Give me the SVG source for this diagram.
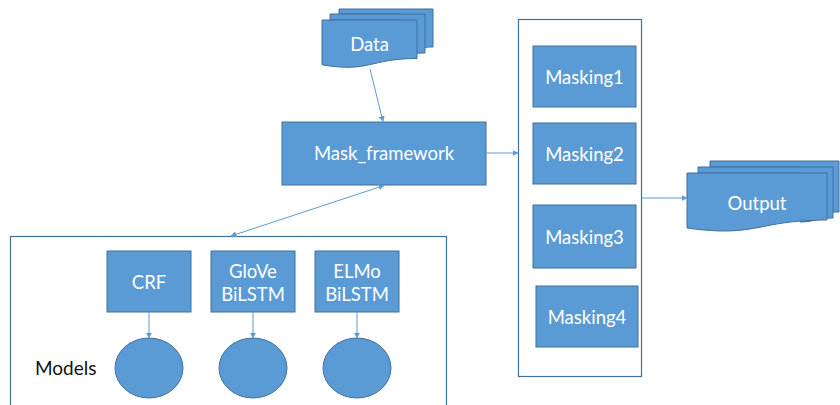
<svg xmlns="http://www.w3.org/2000/svg" width="840" height="405" viewBox="0 0 840 405">
<defs>
<marker id="ah" viewBox="0 0 10 10" refX="9" refY="5" markerWidth="6" markerHeight="6" orient="auto-start-reverse" markerUnits="userSpaceOnUse">
<path d="M0,0 L10,5 L0,10 Z" fill="#5B9BD5"/>
</marker>
<style>
.box{fill:#5B9BD5;stroke:#41719C;stroke-width:1}
.cont{fill:#FFFFFF;stroke:#41719C;stroke-width:1.2}
.lbl{font-family:Lato,"Open Sans","Liberation Sans",sans-serif;font-size:18.5px;fill:#FFFFFF;text-anchor:middle;dominant-baseline:central}
.dark{font-family:Lato,"Open Sans","Liberation Sans",sans-serif;font-size:19px;fill:#111111}
.con{stroke:#5B9BD5;stroke-width:1;fill:none}
</style>
</defs>
<rect width="840" height="405" fill="#FFFFFF"/>
<g id="models">
<rect class="cont" x="10.5" y="236.5" width="436" height="180"/>
<text class="dark" x="35" y="375">Models</text>
</g>
<g id="masking">
<rect class="cont" x="518.5" y="19.5" width="123" height="357"/>
</g>
<g id="data">
<path class="box" d="M339,9 H433 V47 C413,47 413,54 400,54 V14 H339 Z"/>
<path class="box" d="M330,14 H425 V53 C408,53 408,58 400,58 V20 H330 Z"/>
<path class="box" d="M322,20 H417 V58.5 C369.5,58.5 369.5,73 322,64.8 Z"/>
<text class="lbl" x="369.5" y="44">Data</text>
</g>
<g id="mask_framework">
<rect class="box" x="282" y="122" width="204" height="63"/>
<text class="lbl" x="384" y="153">Mask_framework</text>
</g>
<g id="crf">
<rect class="box" x="107" y="251" width="84" height="61"/>
<text class="lbl" x="149" y="281.5">CRF</text>
</g>
<g id="glove">
<rect class="box" x="211" y="251" width="84" height="61"/>
<text class="lbl" x="253" y="271">GloVe</text>
<text class="lbl" x="253" y="294">BiLSTM</text>
</g>
<g id="elmo">
<rect class="box" x="315" y="251" width="84" height="61"/>
<text class="lbl" x="357" y="271">ELMo</text>
<text class="lbl" x="357" y="294">BiLSTM</text>
</g>
<g id="circle_crf"><ellipse class="box" cx="149" cy="368" rx="34" ry="30"/></g>
<g id="circle_glove"><ellipse class="box" cx="253" cy="368" rx="34" ry="30"/></g>
<g id="circle_elmo"><ellipse class="box" cx="357" cy="368" rx="34" ry="30"/></g>
<g id="masking1">
<rect class="box" x="533" y="46" width="103" height="61"/>
<text class="lbl" x="584.5" y="76.5">Masking1</text>
</g>
<g id="masking2">
<rect class="box" x="533" y="123" width="103" height="61"/>
<text class="lbl" x="584.5" y="153.5">Masking2</text>
</g>
<g id="masking3">
<rect class="box" x="533" y="205" width="103" height="63"/>
<text class="lbl" x="584.5" y="236.5">Masking3</text>
</g>
<g id="masking4">
<rect class="box" x="536" y="286" width="102" height="61"/>
<text class="lbl" x="587" y="316.5">Masking4</text>
</g>
<g id="output">
<path class="box" d="M710,161 H839 V212 C815,212 815,217 800,217 V167 H710 Z"/>
<path class="box" d="M698,167 H833 V218 C815,218 815,222 800,222 V173 H698 Z"/>
<path class="box" d="M687,173 H827 V220 C757,220 757,238 687,228 Z"/>
<text class="lbl" x="757" y="203">Output</text>
</g>
<g id="connectors">
<line class="con" x1="370" y1="69" x2="383" y2="121.5" marker-end="url(#ah)"/>
<line class="con" x1="486" y1="153" x2="518" y2="153" marker-end="url(#ah)"/>
<line class="con" x1="231" y1="236" x2="384" y2="185.5" marker-start="url(#ah)" marker-end="url(#ah)"/>
<line class="con" x1="642" y1="198" x2="687" y2="198" marker-end="url(#ah)"/>
<line class="con" x1="149" y1="312" x2="149" y2="338" marker-end="url(#ah)"/>
<line class="con" x1="253" y1="312" x2="253" y2="338" marker-end="url(#ah)"/>
<line class="con" x1="357" y1="312" x2="357" y2="338" marker-end="url(#ah)"/>
</g>
</svg>
